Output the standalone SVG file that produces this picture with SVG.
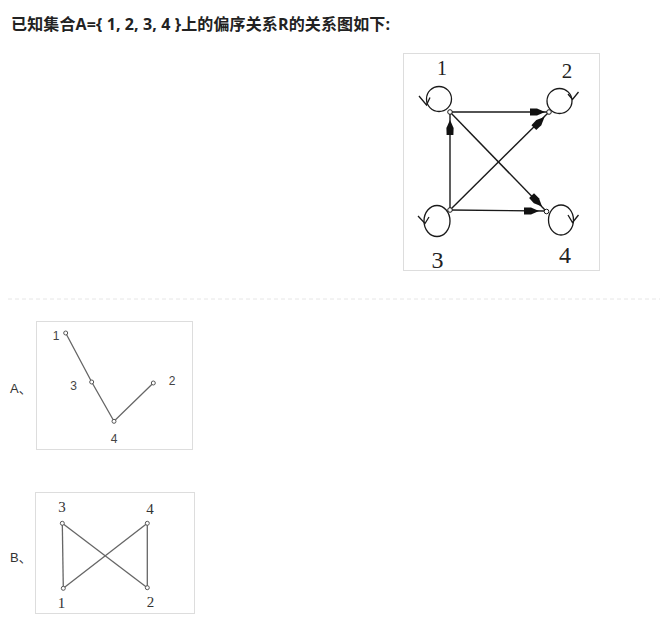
<svg xmlns="http://www.w3.org/2000/svg" width="663" height="626" viewBox="0 0 663 626">
<style>
.title{font-family:"Open Sans","Noto Sans CJK SC",sans-serif;font-size:16px;font-weight:bold;fill:#222}
.opt{font-family:"Liberation Sans","Noto Sans CJK SC",sans-serif;font-size:13px;fill:#333}
.box{fill:#fff;stroke:#ddd;stroke-width:1}
.lbl{font-family:"Liberation Serif",serif;fill:#222;text-anchor:middle}
.e{stroke:#1a1a1a;stroke-width:1.4;fill:none}
.loop{stroke:#1a1a1a;stroke-width:1.3;fill:none}
.dot{fill:#fff;stroke:#1a1a1a;stroke-width:1}
.ah{fill:#111}
.ge{stroke:#666;stroke-width:1.3;fill:none}
.gdot{fill:#fff;stroke:#555;stroke-width:1}
.glA{font-family:"Liberation Sans",sans-serif;font-size:12px;fill:#444;text-anchor:middle}
.glB{font-family:"Liberation Serif",serif;font-size:15px;fill:#333;text-anchor:middle}
</style>
<defs>
<path id="arrowhead" class="ah" d="M0,0 L-8,-3.6 L-15,-3.4 L-15,3.4 L-8,3.6 Z"/>
</defs>
<rect width="663" height="626" fill="#fff"/>
<text class="title" x="11" y="30" textLength="379" lengthAdjust="spacing">已知集合A={ 1, 2, 3, 4 }上的偏序关系R的关系图如下:</text>

<g id="main-diagram">
<rect class="box" x="403.5" y="53.5" width="196" height="217"/>
<g id="connectors">
<line class="e" x1="450" y1="112" x2="549" y2="112"/>
<line class="e" x1="450" y1="210" x2="546" y2="211"/>
<line class="e" x1="450" y1="210" x2="450" y2="112"/>
<line class="e" x1="450" y1="112" x2="546" y2="211"/>
<line class="e" x1="450" y1="210" x2="549" y2="112"/>
<use href="#arrowhead" transform="translate(545,112)"/>
<use href="#arrowhead" transform="translate(539,211)"/>
<use href="#arrowhead" transform="translate(450,120) rotate(-90)"/>
<use href="#arrowhead" transform="translate(542,206.5) rotate(45.9)"/>
<use href="#arrowhead" transform="translate(544.5,117) rotate(-44.7)"/>
</g>
<g id="node1">
<circle class="loop" cx="439" cy="99" r="12.5"/>
<polyline class="loop" points="419,96 426.5,105 430,97.5"/>
<circle class="dot" cx="450" cy="112" r="2.3"/>
<text class="lbl" x="442" y="75" font-size="20">1</text>
</g>
<g id="node2">
<circle class="loop" cx="559.5" cy="101" r="12.5"/>
<polyline class="loop" points="568,94 572.5,99.5 578.5,92"/>
<circle class="dot" cx="549" cy="112" r="2.3"/>
<text class="lbl" x="567" y="78" font-size="21">2</text>
</g>
<g id="node3">
<ellipse class="loop" cx="437" cy="221" rx="13" ry="15.5"/>
<polyline class="loop" points="418,216 425,223.5 429,217"/>
<circle class="dot" cx="450" cy="210" r="2.3"/>
<text class="lbl" x="437.5" y="268" font-size="24">3</text>
</g>
<g id="node4">
<ellipse class="loop" cx="561" cy="220" rx="12.5" ry="15"/>
<polyline class="loop" points="568,215 572.5,222.5 578.5,215"/>
<circle class="dot" cx="546.5" cy="211.5" r="2.3"/>
<text class="lbl" x="565" y="263" font-size="24">4</text>
</g>
</g>

<line x1="8" y1="299" x2="660" y2="299" stroke="#e6e6e6" stroke-width="1" stroke-dasharray="4,3"/>

<g id="optionA">
<text class="opt" x="10" y="392.5">A、</text>
<rect class="box" x="36.5" y="321.5" width="156" height="128"/>
<g id="connectorsA">
<polyline class="ge" points="65.7,333 91.7,382 114,421.3 153.3,383"/>
</g>
<g id="A1"><circle class="gdot" cx="65.7" cy="333" r="2"/><text class="glA" x="56" y="340">1</text></g>
<g id="A3"><circle class="gdot" cx="91.7" cy="382" r="2"/><text class="glA" x="73.5" y="390">3</text></g>
<g id="A4"><circle class="gdot" cx="114" cy="421.3" r="2"/><text class="glA" x="114" y="442.5">4</text></g>
<g id="A2"><circle class="gdot" cx="153.3" cy="383" r="2"/><text class="glA" x="172" y="384.5">2</text></g>
</g>

<g id="optionB">
<text class="opt" x="10" y="562">B、</text>
<rect class="box" x="35.5" y="492.5" width="159" height="121"/>
<g id="connectorsB">
<line class="ge" x1="62.3" y1="523.3" x2="63.3" y2="588.3"/>
<line class="ge" x1="147.3" y1="523.3" x2="147.3" y2="587.7"/>
<line class="ge" x1="62.3" y1="523.3" x2="147.3" y2="587.7"/>
<line class="ge" x1="147.3" y1="523.3" x2="63.3" y2="588.3"/>
</g>
<g id="B3"><circle class="gdot" cx="62.3" cy="523.3" r="2"/><text class="glB" x="62" y="512">3</text></g>
<g id="B4"><circle class="gdot" cx="147.3" cy="523.3" r="2"/><text class="glB" x="150" y="514">4</text></g>
<g id="B1"><circle class="gdot" cx="63.3" cy="588.3" r="2"/><text class="glB" x="61.5" y="607.5">1</text></g>
<g id="B2"><circle class="gdot" cx="147.3" cy="587.7" r="2"/><text class="glB" x="150.5" y="606.5">2</text></g>
</g>
</svg>
